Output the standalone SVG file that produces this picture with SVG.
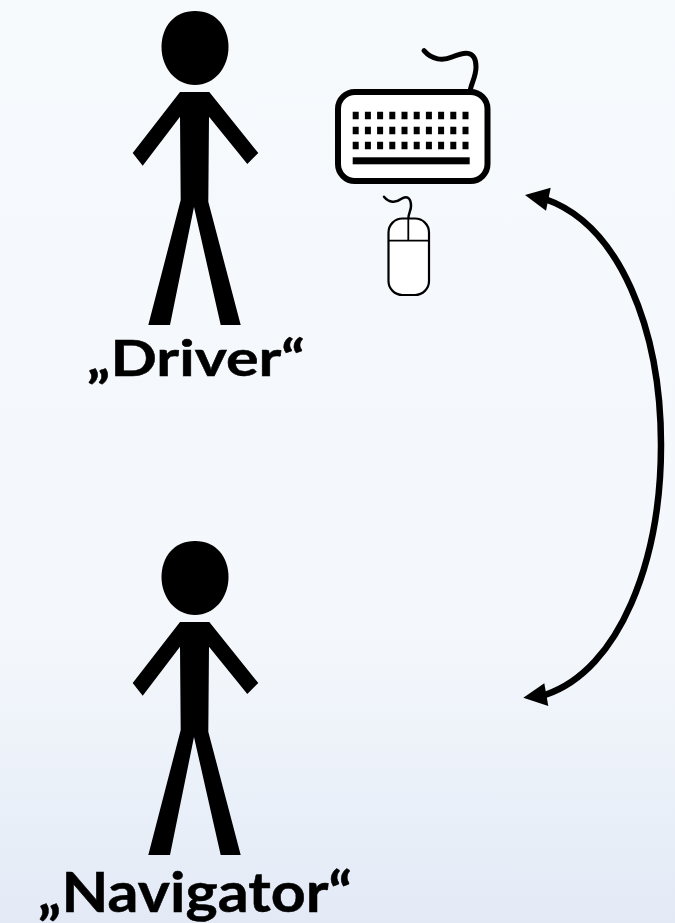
<svg xmlns="http://www.w3.org/2000/svg" width="675" height="923" viewBox="0 0 675 923">
<defs>
<linearGradient id="bg" x1="0" y1="0" x2="0" y2="1">
<stop offset="0" stop-color="#f6fafd"/>
<stop offset="0.68" stop-color="#f4f8fc"/>
<stop offset="1" stop-color="#e3eaf6"/>
</linearGradient>
<symbol id="person" overflow="visible">
<path d="M195,11 C216,11 228.5,27 228.5,47 C228.5,68 214,85 195,85 C176,85 161.5,68 161.5,47 C161.5,27 174,11 195,11 Z"/>
<polygon points="180,92 209.3,92 258.3,153 247.3,164 209,116.7 208.3,201.7 240.7,325 220.7,325 194,207 170,325 148.3,325 180.7,200 180,116.7 142.7,165.7 132.7,153"/>
</symbol>
</defs>
<style>
.label{font-family:Lato,"Open Sans",sans-serif;font-weight:700;fill:#000;stroke:#000;stroke-width:0.5;}
.key{fill:#000;}
.line{fill:none;stroke:#000;stroke-linecap:round;}
</style>
<rect width="675" height="923" fill="url(#bg)"/>
<g id="driver">
<use href="#person"/>
<text class="label" x="87" y="376" font-size="49" textLength="218" lengthAdjust="spacingAndGlyphs">„Driver“</text>
</g>
<g id="navigator">
<use href="#person" y="530"/>
<text class="label" x="38" y="912" font-size="55" textLength="314" lengthAdjust="spacingAndGlyphs">„Navigator“</text>
</g>
<g id="keyboard">
<path class="line" stroke-width="5" d="M424,50.7 C432,60 443,61 452,57 C462,53 476,48 476,67 C476,76 472,82 470.5,89"/>
<rect x="338" y="92" width="149.5" height="89" rx="17" fill="#fff" stroke="#000" stroke-width="6"/>
<g class="key">
<path d="M352.7,111.7h6v7.6h-6zM364.9,111.7h6v7.6h-6zM377.1,111.7h6v7.6h-6zM389.3,111.7h6v7.6h-6zM401.5,111.7h6v7.6h-6zM413.7,111.7h6v7.6h-6zM425.9,111.7h6v7.6h-6zM438.1,111.7h6v7.6h-6zM450.3,111.7h6v7.6h-6zM462.5,111.7h6v7.6h-6z"/>
<path d="M352.7,126.7h6v7.6h-6zM364.9,126.7h6v7.6h-6zM377.1,126.7h6v7.6h-6zM389.3,126.7h6v7.6h-6zM401.5,126.7h6v7.6h-6zM413.7,126.7h6v7.6h-6zM425.9,126.7h6v7.6h-6zM438.1,126.7h6v7.6h-6zM450.3,126.7h6v7.6h-6zM462.5,126.7h6v7.6h-6z"/>
<path d="M352.7,141.7h6v7.6h-6zM364.9,141.7h6v7.6h-6zM377.1,141.7h6v7.6h-6zM389.3,141.7h6v7.6h-6zM401.5,141.7h6v7.6h-6zM413.7,141.7h6v7.6h-6zM425.9,141.7h6v7.6h-6zM438.1,141.7h6v7.6h-6zM450.3,141.7h6v7.6h-6zM462.5,141.7h6v7.6h-6z"/>
<rect x="352.7" y="157.3" width="117" height="7"/>
</g>
</g>
<g id="mouse">
<path class="line" stroke-width="2.5" d="M384,196.7 C389,203 396,203 401,199 C407,195 411,198 411,206 C411,211 408.3,213 408.3,219"/>
<rect x="388.5" y="218.5" width="40.5" height="76.5" rx="14" fill="#fff" stroke="#000" stroke-width="2.2"/>
<path class="line" stroke-width="1.8" d="M389,240.7H428.5M408.3,219V240.7"/>
</g>
<g id="connectors">
<path fill="none" stroke="#000" stroke-width="6.5" d="M545,199 C620,225 661,330 661,445 C661,560 620,670 545,695"/>
<polygon points="525,195 550.7,187.7 546,210.7"/>
<polygon points="523.3,697.7 544.3,683.3 548.3,706"/>
</g>
</svg>
